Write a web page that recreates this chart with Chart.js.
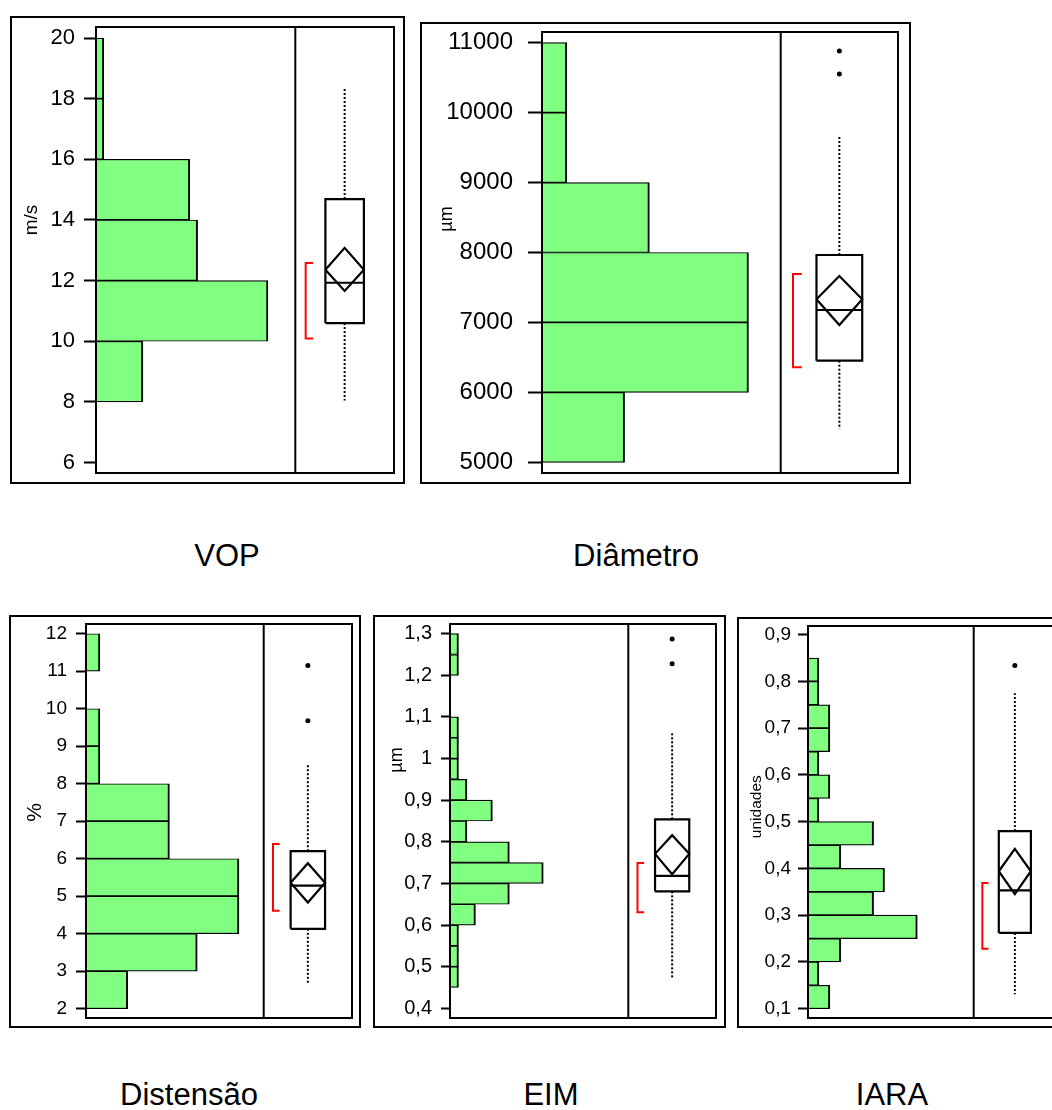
<!DOCTYPE html>
<html>
<head>
<meta charset="utf-8">
<script src="https://cdn.jsdelivr.net/npm/chart.js@4.4.1/dist/chart.umd.min.js"></script>
<style>
  html, body { margin: 0; padding: 0; width: 1052px; height: 1110px; overflow: hidden; background: #fff; }
  .panel { position: absolute; border: 2px solid #000; box-sizing: border-box; background: #fff; overflow: hidden; }
  .panel canvas { display: block; }
  .caption { position: absolute; font-family: "Liberation Sans", Arial, sans-serif; font-size: 31px; line-height: 31px;
             white-space: nowrap; transform: translateX(-50%); color: #000; }
</style>
</head>
<body>
<script>
// ---- VOP (m/s) ----
const vopBinStarts = [8, 10, 12, 14, 16, 18];
const vopCounts    = [6, 22, 13, 12, 1, 1];
const vopTicks     = [6, 8, 10, 12, 14, 16, 18, 20];
const vopBox       = [8.05, 10.60, 11.93, 14.69, 18.33];   // lower whisker, Q1, median, Q3, upper whisker
const vopDiamond   = [11.66, 12.36, 13.08];                // lower 95% CI, mean, upper 95% CI
const vopHalf      = [10.09, 12.58];                       // shortest half
const vopOutliers  = [];

// ---- Diâmetro (µm) ----
const diamBinStarts = [5000, 6000, 7000, 8000, 9000, 10000];
const diamCounts    = [10, 25, 25, 13, 3, 3];
const diamTicks     = [5000, 6000, 7000, 8000, 9000, 10000, 11000];
const diamBox       = [5476, 6453, 7178, 7964, 9656];
const diamDiamond   = [6963, 7331, 7664];
const diamHalf      = [6358, 7692];
const diamOutliers  = [10552, 10881];

// ---- Distensão (%) ----
const distBinStarts = [2, 3, 4, 5, 6, 7, 8, 9, 10, 11];
const distCounts    = [3, 8, 11, 11, 6, 6, 1, 1, 0, 1];
const distTicks     = [2, 3, 4, 5, 6, 7, 8, 9, 10, 11, 12];
const distBox       = [2.69, 4.13, 5.28, 6.20, 8.50];
const distDiamond   = [4.83, 5.36, 5.88];
const distHalf      = [4.61, 6.39];
const distOutliers  = [9.68, 11.15];

// ---- EIM (µm) ----
const eimBinStarts = [0.45, 0.50, 0.55, 0.60, 0.65, 0.70, 0.75, 0.80, 0.85, 0.90, 0.95, 1.00, 1.05, 1.10, 1.15, 1.20, 1.25];
const eimCounts    = [1, 1, 1, 3, 7, 11, 7, 2, 5, 2, 1, 1, 1, 0, 0, 1, 1];
const eimTicks     = [0.4, 0.5, 0.6, 0.7, 0.8, 0.9, 1, 1.1, 1.2, 1.3];
const eimBox       = [0.470, 0.681, 0.718, 0.854, 1.061];
const eimDiamond   = [0.722, 0.771, 0.816];
const eimHalf      = [0.631, 0.749];
const eimOutliers  = [1.228, 1.287];

// ---- IARA (unidades) ----
const iaraBinStarts = [0.10, 0.15, 0.20, 0.25, 0.30, 0.35, 0.40, 0.45, 0.50, 0.55, 0.60, 0.65, 0.70, 0.75, 0.80];
const iaraCounts    = [2, 1, 3, 10, 6, 7, 3, 6, 1, 2, 1, 2, 2, 1, 1];
const iaraTicks     = [0.1, 0.2, 0.3, 0.4, 0.5, 0.6, 0.7, 0.8, 0.9];
const iaraBox       = [0.131, 0.262, 0.353, 0.480, 0.775];
const iaraDiamond   = [0.345, 0.394, 0.442];
const iaraHalf      = [0.228, 0.369];
const iaraOutliers  = [0.834];

const FONT = '"Liberation Sans", Arial, sans-serif';
const GREEN = '#80ff80';
// horizontal positions inside the box-plot strip (0..1)
const BOX_L = 0.305, BOX_R = 0.695, BOX_C = 0.5, BRACKET_X = 0.105, BRACKET_END = 0.18;

const panels = [
  { title: 'VOP', titleX: 227, titleTop: 540, unit: 'm/s', unitSize: 19, unitX: 20, unitY: 202,
    bins: vopBinStarts, binWidth: 2, counts: vopCounts, ticks: vopTicks, box: vopBox, diamond: vopDiamond, half: vopHalf, outliers: vopOutliers,
    frame: { x: 10, y: 16, w: 395, h: 468 }, area: { l: 84, t: 9, r: 9, b: 9 },
    yMin: 5.657, yMax: 20.363, xMax: 25.5, histW: 199.3, boxW: 98.7, tickFont: 22, tickLen: 12, tickPad: 9 },
  { title: 'Diâmetro', titleX: 636, titleTop: 540, unit: 'µm', unitSize: 18, unitX: 24.7, unitY: 195,
    bins: diamBinStarts, binWidth: 1000, counts: diamCounts, ticks: diamTicks, box: diamBox, diamond: diamDiamond, half: diamHalf, outliers: diamOutliers,
    frame: { x: 420, y: 22, w: 491, h: 462 }, area: { l: 120, t: 8, r: 11, b: 9 },
    yMin: 4847, yMax: 11153, xMax: 28.9, histW: 238.7, boxW: 117.3, tickFont: 24, tickLen: 14, tickPad: 15 },
  { title: 'Distensão', titleX: 189, titleTop: 1079, unit: '%', unitSize: 21, unitX: 24, unitY: 195.5,
    bins: distBinStarts, binWidth: 1, counts: distCounts, ticks: distTicks, box: distBox, diamond: distDiamond, half: distHalf, outliers: distOutliers,
    frame: { x: 9, y: 615, w: 352, h: 413 }, area: { l: 75, t: 7, r: 7, b: 8 },
    yMin: 1.752, yMax: 12.259, xMax: 12.78, histW: 177.7, boxW: 88.3, tickFont: 19, tickLen: 10, tickPad: 9 },
  { title: 'EIM', titleX: 551, titleTop: 1079, unit: 'µm', unitSize: 18, unitX: 22.5, unitY: 143,
    bins: eimBinStarts, binWidth: 0.05, counts: eimCounts, ticks: eimTicks, box: eimBox, diamond: eimDiamond, half: eimHalf, outliers: eimOutliers,
    frame: { x: 373, y: 615, w: 353, h: 413 }, area: { l: 75, t: 7, r: 8, b: 8 },
    yMin: 0.3767, yMax: 1.3233, xMax: 21.03, histW: 178.3, boxW: 87.7, tickFont: 20, tickLen: 9, tickPad: 9 },
  { title: 'IARA', titleX: 892, titleTop: 1079, unit: 'unidades', unitSize: 15.5, unitX: 17.5, unitY: 187.7,
    bins: iaraBinStarts, binWidth: 0.05, counts: iaraCounts, ticks: iaraTicks, box: iaraBox, diamond: iaraDiamond, half: iaraHalf, outliers: iaraOutliers,
    frame: { x: 737, y: 617, w: 330, h: 411 }, area: { l: 69, t: 7, r: 9, b: 8 },
    yMin: 0.0801, yMax: 0.9186, xMax: 15.16, histW: 165.7, boxW: 82.3, tickFont: 19, tickLen: 10, tickPad: 7 }
];

// Plot frame, divider between histogram and box plot, and the rotated unit label
const panelFrame = {
  id: 'panelFrame',
  afterDraw(chart, args, opts) {
    const { ctx, chartArea: a, scales } = chart;
    ctx.save();
    ctx.strokeStyle = '#000';
    ctx.lineWidth = 2;
    ctx.strokeRect(a.left, a.top, a.right - a.left, a.bottom - a.top);
    ctx.beginPath();
    ctx.moveTo(scales.x2.left, a.top);
    ctx.lineTo(scales.x2.left, a.bottom);
    ctx.stroke();
    ctx.translate(opts.x, opts.y);
    ctx.rotate(-Math.PI / 2);
    ctx.font = opts.size + 'px ' + FONT;
    ctx.fillStyle = '#000';
    ctx.textAlign = 'center';
    ctx.textBaseline = 'middle';
    ctx.fillText(opts.text, 0, 0);
    ctx.restore();
  }
};

function lineSet(data, extra) {
  return Object.assign({
    type: 'line', xAxisID: 'x2', yAxisID: 'y', indexAxis: 'x', data,
    borderColor: '#000', borderWidth: 2.2, pointRadius: 0, fill: false, tension: 0
  }, extra || {});
}

function buildPanel(p) {
  const div = document.createElement('div');
  div.className = 'panel';
  Object.assign(div.style, { left: p.frame.x + 'px', top: p.frame.y + 'px', width: p.frame.w + 'px', height: p.frame.h + 'px' });
  const canvas = document.createElement('canvas');
  canvas.width = p.frame.w - 4;
  canvas.height = p.frame.h - 4;
  div.appendChild(canvas);
  document.body.appendChild(div);

  const cap = document.createElement('div');
  cap.className = 'caption';
  cap.textContent = p.title;
  cap.style.left = p.titleX + 'px';
  cap.style.top = p.titleTop + 'px';
  document.body.appendChild(cap);

  const hist = p.bins
    .map((lo, i) => ({ x: p.counts[i], y: lo + p.binWidth / 2 }))
    .filter(d => d.x > 0);
  const [wLo, q1, med, q3, wHi] = p.box;
  const [ciLo, mean, ciHi] = p.diamond;
  const [hLo, hHi] = p.half;
  const dotted = { borderWidth: 2, borderDash: [2, 2] };

  const datasets = [
    { type: 'bar', xAxisID: 'x', yAxisID: 'y', data: hist,
      backgroundColor: GREEN, borderColor: '#000',
      borderWidth: { top: 1.2, right: 2, bottom: 1.2, left: 0 }, borderSkipped: false,
      barPercentage: 1, categoryPercentage: 1 },
    lineSet([{ x: BOX_C, y: q3 }, { x: BOX_C, y: wHi }], dotted),
    lineSet([{ x: BOX_C, y: q1 }, { x: BOX_C, y: wLo }], dotted),
    lineSet([{ x: BOX_L, y: q1 }, { x: BOX_R, y: q1 }, { x: BOX_R, y: q3 }, { x: BOX_L, y: q3 }, { x: BOX_L, y: q1 }]),
    lineSet([{ x: BOX_L, y: med }, { x: BOX_R, y: med }]),
    lineSet([{ x: BOX_L, y: mean }, { x: BOX_C, y: ciHi }, { x: BOX_R, y: mean }, { x: BOX_C, y: ciLo }, { x: BOX_L, y: mean }]),
    lineSet([{ x: BRACKET_END, y: hLo }, { x: BRACKET_X, y: hLo }, { x: BRACKET_X, y: hHi }, { x: BRACKET_END, y: hHi }],
            { borderColor: '#ff0000', borderWidth: 2 }),
    lineSet(p.outliers.map(v => ({ x: BOX_C, y: v })),
            { showLine: false, pointRadius: 2.5, pointBackgroundColor: '#000', pointBorderWidth: 0 })
  ];

  new Chart(canvas, {
    type: 'bar',
    data: { datasets },
    options: {
      indexAxis: 'y',
      responsive: false,
      animation: false,
      events: [],
      layout: { padding: { left: 0, top: p.area.t, right: p.area.r, bottom: p.area.b } },
      plugins: {
        legend: { display: false },
        tooltip: { enabled: false },
        panelFrame: { text: p.unit, size: p.unitSize, x: p.unitX, y: p.unitY }
      },
      scales: {
        x: { type: 'linear', axis: 'x', position: 'bottom', min: 0, max: p.xMax, display: false,
             stack: 'strip', stackWeight: p.histW, weight: 1 },
        x2: { type: 'linear', axis: 'x', position: 'bottom', min: 0, max: 1, display: false,
              stack: 'strip', stackWeight: p.boxW, weight: 2 },
        y: { type: 'linear', axis: 'y', position: 'left', min: p.yMin, max: p.yMax, offset: false,
             afterBuildTicks: s => { s.ticks = p.ticks.map(v => ({ value: v })); },
             afterFit: s => { s.width = p.area.l; s.paddingTop = 0; s.paddingBottom = 0; },
             ticks: { color: '#000', font: { family: FONT, size: p.tickFont }, padding: p.tickPad,
                      autoSkip: false, maxRotation: 0,
                      callback: v => String(v).replace('.', ',') },
             grid: { display: true, offset: false, drawOnChartArea: false, drawTicks: true,
                     tickLength: p.tickLen, tickWidth: 2, tickColor: '#000' },
             border: { display: false } }
      }
    },
    plugins: [panelFrame]
  });
}

panels.forEach(buildPanel);
</script>
</body>
</html>
